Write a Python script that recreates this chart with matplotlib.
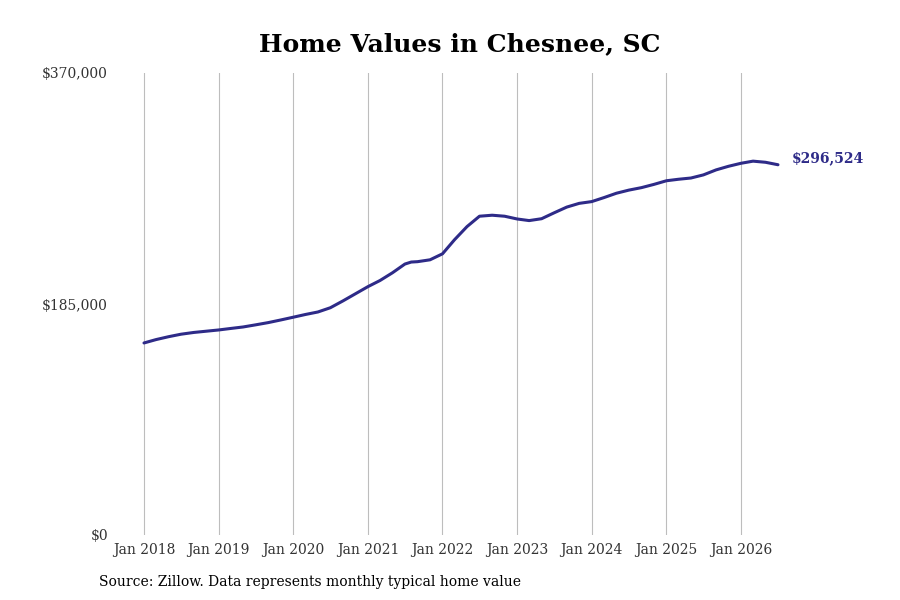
import datetime as dt
import numpy as np
import matplotlib
matplotlib.use('Agg')
from matplotlib import pyplot as plt
import matplotlib.dates as mdates
import matplotlib.ticker as mticker

# values (typical home value, $), every other month
dates = ['2018-01', '2018-03', '2018-05', '2018-07', '2018-09', '2018-11',
         '2019-01', '2019-03', '2019-05', '2019-07', '2019-09', '2019-11',
         '2020-01', '2020-03', '2020-05', '2020-07', '2020-09', '2020-11',
         '2021-01', '2021-03', '2021-05', '2021-07', '2021-08', '2021-09',
         '2021-11', '2022-01', '2022-03', '2022-05', '2022-07', '2022-09',
         '2022-11', '2023-01', '2023-03', '2023-05', '2023-07', '2023-09',
         '2023-11', '2024-01', '2024-03', '2024-05', '2024-07', '2024-09',
         '2024-11', '2025-01', '2025-03', '2025-05', '2025-07', '2025-09',
         '2025-11', '2026-01', '2026-03', '2026-05', '2026-07']
values = [153800, 156500, 158800, 160800, 162200, 163200,
          164200, 165400, 166600, 168300, 170100, 172200,
          174400, 176600, 178600, 182000, 187500, 193200,
          198900, 203800, 210000, 217000, 218600, 218900,
          220400, 225200, 236500, 247000, 255300, 256100,
          255300, 253100, 251800, 253300, 258000, 262600,
          265600, 267000, 270200, 273700, 276200, 278200,
          280800, 283700, 284900, 285900, 288400, 292400,
          295300, 297700, 299400, 298500, 296524]
year_ticks = list(range(2018, 2027))
y_ticks = [0, 185000, 370000]

title = 'Home Values in Chesnee, SC'
source = 'Source: Zillow. Data represents monthly typical home value'
line_col = '#2e2b88'

x = [dt.datetime.strptime(d, '%Y-%m') for d in dates]

plt.rcParams['font.family'] = ['DejaVu Serif']
fig = plt.figure(figsize=(9, 6), dpi=100)
ax = fig.add_axes([115/900, 1-535/600, 675/900, 462/600])

ax.plot(x, values, color=line_col, lw=2.2, solid_capstyle='round',
        solid_joinstyle='round')
ax.annotate(f'${values[-1]:,}', (x[-1], values[-1]), xytext=(10, 4.5),
            textcoords='offset points', color=line_col, fontweight='bold',
            fontsize=10, va='center', ha='left', annotation_clip=False)

# x range so Jan 2018 and Jan 2026 land where they do in the reference
start, end = dt.datetime(2018, 1, 1), dt.datetime(2026, 1, 1)
px_per_day = 597 / (end - start).days
ax.set_xlim(start - dt.timedelta(days=29/px_per_day),
            end + dt.timedelta(days=49/px_per_day))
ax.set_ylim(0, 370000)

ax.set_xticks([dt.datetime(y, 1, 1) for y in year_ticks])
ax.xaxis.set_major_formatter(mdates.DateFormatter('Jan %Y'))
ax.set_yticks(y_ticks)
ax.yaxis.set_major_formatter(mticker.FuncFormatter(lambda v, p: f'${v:,.0f}'))
ax.tick_params(length=0, labelsize=10, colors='#333333')
ax.tick_params(axis='y', pad=5)
ax.tick_params(axis='x', pad=6)
ax.grid(axis='x', color='#bdbdbd', lw=0.8)
for s in ax.spines.values():
    s.set_visible(False)

fig.text(460/900, 1-44/600, title, ha='center', va='center',
         fontsize=18, fontweight='bold')
fig.text(99/900, 1-582/600, source, ha='left', va='center', fontsize=10)

fig.savefig('out.png', dpi=100)
